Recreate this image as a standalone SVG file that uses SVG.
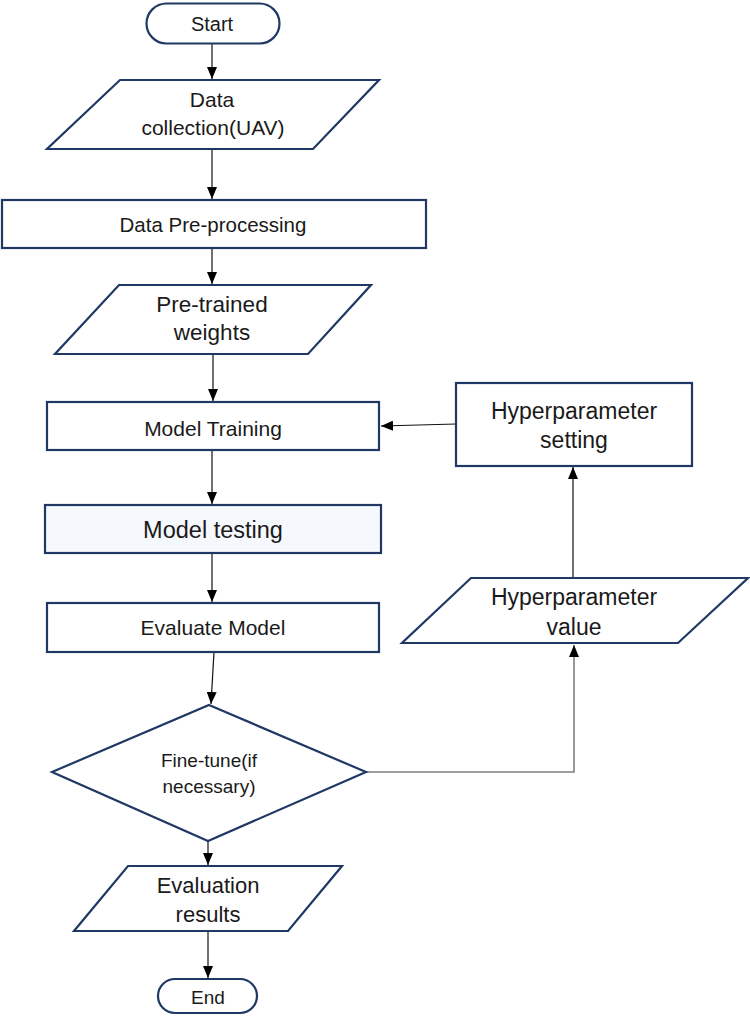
<svg xmlns="http://www.w3.org/2000/svg" width="750" height="1019" viewBox="0 0 750 1019">
<style>
.n{fill:#ffffff;stroke:#1f3864;stroke-width:2.2}
.t{font-family:"Liberation Sans",Arial,sans-serif;fill:#1a1a1a;text-anchor:middle}
.c{fill:none;stroke:#111111;stroke-width:1.2}
.g{fill:none;stroke:#7f7f7f;stroke-width:1.6}
</style>
<defs>
<marker id="ah" viewBox="0 0 12 10" markerWidth="12" markerHeight="10" refX="12" refY="5" orient="auto" markerUnits="userSpaceOnUse">
<path d="M0,0 L12,5 L0,10 z" fill="#000000"/>
</marker>
</defs>
<rect width="750" height="1019" fill="#ffffff"/>
<g id="connectors">
<path class="c" d="M212,44 V79" marker-end="url(#ah)"/>
<path class="c" d="M212,149 V199" marker-end="url(#ah)"/>
<path class="c" d="M212,248 V284" marker-end="url(#ah)"/>
<path class="c" d="M213,354 V401" marker-end="url(#ah)"/>
<path class="c" d="M212,450 V504" marker-end="url(#ah)"/>
<path class="c" d="M212,553 V602" marker-end="url(#ah)"/>
<path class="c" d="M214,652 L211,704" marker-end="url(#ah)"/>
<path class="c" d="M208,841 V865" marker-end="url(#ah)"/>
<path class="c" d="M208,931 V978" marker-end="url(#ah)"/>
<path class="c" d="M456,424 L381,426" marker-end="url(#ah)"/>
<path class="c" d="M573,578 V467" marker-end="url(#ah)"/>
<path class="g" d="M366,772 H574 V645" marker-end="url(#ah)"/>
</g>
<g id="start">
<rect class="n" x="146.5" y="3.5" width="133" height="40" rx="20"/>
<text class="t" x="212" y="31" font-size="20">Start</text>
</g>
<g id="data-collection">
<polygon class="n" points="120,80 379,80 313,149 47,149"/>
<text class="t" x="212" y="107" font-size="21">Data</text>
<text class="t" x="213" y="135" font-size="21">collection(UAV)</text>
</g>
<g id="preprocessing">
<rect class="n" x="2" y="200" width="424" height="48"/>
<text class="t" x="213" y="232" font-size="20.5">Data Pre-processing</text>
</g>
<g id="pretrained">
<polygon class="n" points="119,285 371,285 308,354 55,354"/>
<text class="t" x="212" y="312" font-size="22.5">Pre-trained</text>
<text class="t" x="212" y="340" font-size="22.5">weights</text>
</g>
<g id="model-training">
<rect class="n" x="47" y="402" width="332" height="48"/>
<text class="t" x="213" y="435.5" font-size="21">Model Training</text>
</g>
<g id="model-testing">
<rect class="n" x="45" y="505" width="336" height="48" style="fill:#f5f8fd"/>
<text class="t" x="213" y="537.5" font-size="23.5">Model testing</text>
</g>
<g id="evaluate-model">
<rect class="n" x="47" y="603" width="332" height="49"/>
<text class="t" x="213" y="634.5" font-size="21">Evaluate Model</text>
</g>
<g id="hyperparameter-setting">
<rect class="n" x="456" y="383" width="236" height="83"/>
<text class="t" x="574" y="419" font-size="23">Hyperparameter</text>
<text class="t" x="574" y="448" font-size="23">setting</text>
</g>
<g id="hyperparameter-value">
<polygon class="n" points="471,578 748,578 678,643 402,643"/>
<text class="t" x="574" y="605" font-size="23">Hyperparameter</text>
<text class="t" x="574" y="635" font-size="23">value</text>
</g>
<g id="fine-tune">
<polygon class="n" points="209,705 366,772 208,841 52,772"/>
<text class="t" x="209" y="766.5" font-size="19">Fine-tune(if</text>
<text class="t" x="209" y="793" font-size="19">necessary)</text>
</g>
<g id="evaluation-results">
<polygon class="n" points="128,866 342,866 288,931 74,931"/>
<text class="t" x="208" y="893" font-size="22">Evaluation</text>
<text class="t" x="208" y="922" font-size="22">results</text>
</g>
<g id="end">
<rect class="n" x="158" y="979" width="99" height="34" rx="17"/>
<text class="t" x="208" y="1003.5" font-size="19">End</text>
</g>
</svg>
